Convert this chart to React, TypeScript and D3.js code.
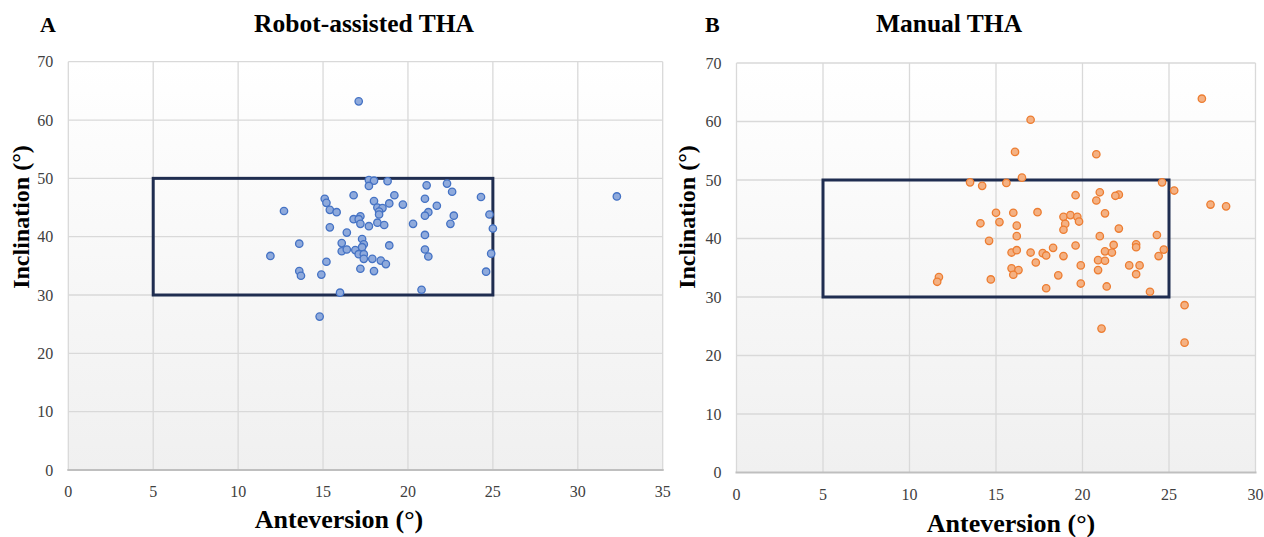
import React, { useEffect, useRef } from "react";
import * as d3 from "d3";

// Robot-assisted THA cup positions (anteversion, inclination in degrees)
const robotAnteversion = [
  17.1, 17.7, 18.0, 17.7, 18.8, 21.1, 22.3, 22.6, 16.8, 19.2, 15.1, 15.2, 15.4, 15.8, 12.7, 18.0,
  18.9, 19.7, 18.2, 18.5, 18.3, 18.3, 17.2, 16.8, 17.1, 17.2, 17.7, 18.2, 18.6, 21.0, 21.7, 21.2,
  21.0, 22.7, 22.5, 24.3, 24.8, 25.0, 20.3, 15.4, 16.4, 21.0, 17.3, 17.4, 16.1, 18.9, 13.6, 11.9,
  16.1, 16.4, 16.9, 17.3, 17.1, 17.4, 17.4, 17.9, 18.4, 18.7, 21.0, 21.2, 24.9, 15.2, 17.2, 18.0,
  13.6, 13.7, 14.9, 24.6, 16.0, 20.8, 14.8, 32.3,
];
const robotInclination = [
  63.2, 49.7, 49.6, 48.7, 49.5, 48.8, 49.1, 47.7, 47.1, 47.1, 46.5, 45.8, 44.6, 44.2, 44.4, 46.1,
  45.7, 45.5, 45.0, 44.9, 44.3, 43.8, 43.5, 43.0, 43.0, 42.2, 41.8, 42.4, 42.0, 46.5, 45.3, 44.2,
  43.6, 43.6, 42.2, 46.8, 43.8, 41.4, 42.2, 41.6, 40.7, 40.3, 39.6, 38.7, 38.9, 38.5, 38.8, 36.7,
  37.5, 37.8, 37.7, 38.2, 37.0, 37.0, 36.2, 36.2, 35.9, 35.3, 37.8, 36.6, 37.1, 35.7, 34.5, 34.1,
  34.1, 33.3, 33.5, 34.0, 30.4, 30.9, 26.3, 46.9,
];

// Manual THA cup positions
const manualAnteversion = [
  26.9, 17.0, 16.1, 20.8, 16.5, 13.5, 14.2, 15.6, 24.6, 25.3, 21.0, 22.1, 21.9, 19.6, 20.8, 27.4,
  28.3, 15.0, 16.0, 17.4, 21.3, 18.9, 19.3, 19.7, 19.8, 19.0, 18.9, 14.1, 15.2, 16.2, 22.1, 16.2,
  21.0, 24.3, 14.6, 19.6, 21.8, 23.1, 23.1, 18.3, 15.9, 16.2, 17.0, 17.7, 17.9, 18.9, 21.3, 21.7,
  24.7, 24.4, 20.9, 21.3, 17.3, 19.9, 22.7, 23.3, 15.9, 16.3, 16.0, 18.6, 20.9, 23.1, 11.7, 11.6,
  14.7, 19.9, 17.9, 21.4, 23.9, 25.9, 21.1, 25.9,
];
const manualInclination = [
  63.9, 60.3, 54.8, 54.4, 50.4, 49.6, 49.0, 49.5, 49.6, 48.2, 47.9, 47.5, 47.3, 47.4, 46.5, 45.8,
  45.5, 44.4, 44.4, 44.5, 44.3, 43.7, 44.0, 43.7, 42.9, 42.5, 41.5, 42.6, 42.8, 42.2, 41.7, 40.4,
  40.4, 40.6, 39.6, 38.8, 38.9, 39.0, 38.5, 38.4, 37.6, 38.0, 37.6, 37.5, 37.1, 37.0, 37.8, 37.6,
  38.1, 37.0, 36.3, 36.2, 35.9, 35.4, 35.4, 35.4, 34.9, 34.6, 33.8, 33.7, 34.6, 33.9, 33.4, 32.6,
  33.0, 32.3, 31.5, 31.8, 30.9, 28.6, 24.6, 22.2,
];

const robotXTicks = [0, 5, 10, 15, 20, 25, 30, 35];
const manualXTicks = [0, 5, 10, 15, 20, 25, 30];
const yTicks = [0, 10, 20, 30, 40, 50, 60, 70];

// safe zone (Lewinnek): anteversion 5-25, inclination 30-50
const safeAnteversion = [5, 25];
const safeInclination = [30, 50];

const serif = "'Liberation Serif', 'Times New Roman', serif";

const App = () => {
  const svgRef = useRef(null);

  useEffect(() => {
    const svg = d3.select(svgRef.current);
    svg.selectAll("*").remove();

    const defs = svg.append("defs");
    const grad = defs
      .append("linearGradient")
      .attr("id", "plotBg")
      .attr("x1", 0)
      .attr("y1", 0)
      .attr("x2", 0)
      .attr("y2", 1);
    grad.append("stop").attr("offset", "0%").attr("stop-color", "#ffffff");
    grad.append("stop").attr("offset", "100%").attr("stop-color", "#f0f0f0");

    const panels = [
      {
        letter: "A",
        letterX: 40,
        title: "Robot-assisted THA",
        titleX: 364,
        xs: robotAnteversion,
        ys: robotInclination,
        xTicks: robotXTicks,
        xMax: 35,
        left: 68.3,
        right: 662.7,
        top: 61.7,
        bottom: 470,
        yLabelX: 28.5,
        xLabelX: 339,
        xLabelY: 528,
        fill: "#8faadc",
        stroke: "#4472c4",
      },
      {
        letter: "B",
        letterX: 705,
        title: "Manual THA",
        titleX: 949,
        xs: manualAnteversion,
        ys: manualInclination,
        xTicks: manualXTicks,
        xMax: 30,
        left: 736.5,
        right: 1255.5,
        top: 63,
        bottom: 472.5,
        yLabelX: 695,
        xLabelX: 1011,
        xLabelY: 532,
        fill: "#f4b183",
        stroke: "#ed7d31",
      },
    ];

    panels.forEach((p) => {
      const x = d3.scaleLinear().domain([0, p.xMax]).range([p.left, p.right]);
      const y = d3.scaleLinear().domain([0, 70]).range([p.bottom, p.top]);
      const g = svg.append("g");

      // plot background
      g.append("rect")
        .attr("x", p.left)
        .attr("y", p.top)
        .attr("width", p.right - p.left)
        .attr("height", p.bottom - p.top)
        .attr("fill", "url(#plotBg)");

      // grid
      g.selectAll(".vgrid")
        .data(p.xTicks)
        .enter()
        .append("line")
        .attr("x1", (d) => x(d))
        .attr("x2", (d) => x(d))
        .attr("y1", p.top)
        .attr("y2", p.bottom)
        .attr("stroke", "#d9d9d9")
        .attr("stroke-width", 1.3);
      g.selectAll(".hgrid")
        .data(yTicks.filter((d) => d > 0))
        .enter()
        .append("line")
        .attr("x1", p.left)
        .attr("x2", p.right)
        .attr("y1", (d) => y(d))
        .attr("y2", (d) => y(d))
        .attr("stroke", "#d9d9d9")
        .attr("stroke-width", 1.3);

      // x axis line
      g.append("line")
        .attr("x1", p.left - 1)
        .attr("x2", p.right + 1)
        .attr("y1", y(0))
        .attr("y2", y(0))
        .attr("stroke", "#bfbfbf")
        .attr("stroke-width", 2);

      // tick labels
      g.selectAll(".xtick")
        .data(p.xTicks)
        .enter()
        .append("text")
        .attr("x", (d) => x(d))
        .attr("y", y(0) + 27)
        .attr("text-anchor", "middle")
        .attr("font-family", serif)
        .attr("font-size", 16)
        .attr("fill", "#404040")
        .text((d) => d);
      g.selectAll(".ytick")
        .data(yTicks)
        .enter()
        .append("text")
        .attr("x", p.left - 15)
        .attr("y", (d) => y(d) + 5.5)
        .attr("text-anchor", "end")
        .attr("font-family", serif)
        .attr("font-size", 16)
        .attr("fill", "#404040")
        .text((d) => d);

      // safe zone box
      g.append("rect")
        .attr("x", x(safeAnteversion[0]))
        .attr("y", y(safeInclination[1]))
        .attr("width", x(safeAnteversion[1]) - x(safeAnteversion[0]))
        .attr("height", y(safeInclination[0]) - y(safeInclination[1]))
        .attr("fill", "none")
        .attr("stroke", "#1f2d50")
        .attr("stroke-width", 3);

      // points
      g.selectAll(".pt")
        .data(p.xs.map((v, i) => [v, p.ys[i]]))
        .enter()
        .append("circle")
        .attr("cx", (d) => x(d[0]))
        .attr("cy", (d) => y(d[1]))
        .attr("r", 3.7)
        .attr("fill", p.fill)
        .attr("stroke", p.stroke)
        .attr("stroke-width", 1.3);

      // titles
      g.append("text")
        .attr("x", p.letterX)
        .attr("y", 32)
        .attr("font-family", serif)
        .attr("font-weight", "bold")
        .attr("font-size", 22)
        .text(p.letter);
      g.append("text")
        .attr("x", p.titleX)
        .attr("y", 32)
        .attr("text-anchor", "middle")
        .attr("font-family", serif)
        .attr("font-weight", "bold")
        .attr("font-size", 25.5)
        .text(p.title);

      // axis labels
      g.append("text")
        .attr("x", p.xLabelX)
        .attr("y", p.xLabelY)
        .attr("text-anchor", "middle")
        .attr("font-family", serif)
        .attr("font-weight", "bold")
        .attr("font-size", 26)
        .text("Anteversion (°)");
      g.append("text")
        .attr("transform", `translate(${p.yLabelX},217) rotate(-90)`)
        .attr("text-anchor", "middle")
        .attr("font-family", serif)
        .attr("font-weight", "bold")
        .attr("font-size", 24)
        .text("Inclination (°)");
    });
  }, []);

  return (
    <div style={{ position: "absolute", left: 0, top: 0 }}>
      <svg width={1264} height={537} ref={svgRef} style={{ display: "block", background: "#ffffff" }}></svg>
    </div>
  );
};

export default App;
